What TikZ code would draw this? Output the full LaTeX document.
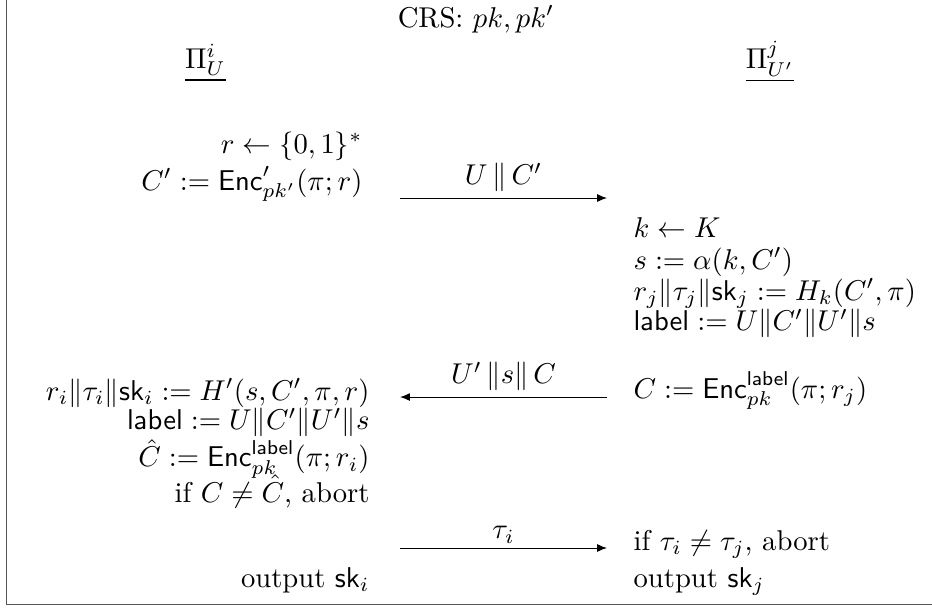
\documentclass[tikz,border=0pt]{standalone}
\usepackage{amsmath}
\usepackage{amssymb}
\usetikzlibrary{positioning, calc, arrows.meta}

\begin{document}
\begin{tikzpicture}[
  every node/.style={scale=1.15},
  msg/.style={-{Latex[length=4pt,width=3.2pt]}, line width=0.4pt},
  lcol/.style={anchor=base east, inner sep=0pt},
  rcol/.style={anchor=base west, inner sep=0pt},
]
\definecolor{cframe}{HTML}{555555}   % frame grey

% -------- page and column geometry --------
\useasboundingbox (0,0) rectangle (13.15,-8.593);
\pgfmathsetmacro{\xL}{5.221}   % right edge of the U column
\pgfmathsetmacro{\xR}{8.932}   % left edge of the U' column
\pgfmathsetmacro{\aL}{5.644}   % left end of the messages
\pgfmathsetmacro{\aR}{8.565}   % right end of the messages

% open frame (left and bottom edges only)
\draw[cframe, line width=0.6pt] (0.092,0) -- (0.092,-8.53) -- (13.15,-8.53);

% =====================================================================
% Header: common reference string and the two instances
% =====================================================================
\node[anchor=base] (crs) at (6.716,-0.381) {CRS: $pk, pk'$};
\node[anchor=base] (instU) at (2.90,-0.96) {$\underline{\Pi_U^i}$};
\node[anchor=base] (instV) at (10.865,-0.96) {$\underline{\Pi_{U'}^j}$};

% =====================================================================
% Round 1: U -> U'
% =====================================================================
\node[lcol] (rndU) at (5.122,-2.159) {$r \leftarrow \{0,1\}^*$};
\node[lcol] (encU) at (5.122,-2.681) {$C' := \mathsf{Enc}'_{pk'}(\pi; r)$};

\coordinate (m1s) at (\aL,-2.794);
\coordinate (m1e) at (\aR,-2.794);
\draw[msg] (m1s) -- node[above, inner sep=2pt] {$U \,\|\, C'$} (m1e);

% =====================================================================
% Round 2: U' -> U
% =====================================================================
\node[rcol] (keyV)   at (\xR,-3.358) {$k \leftarrow K$};
\node[rcol] (projV)  at (\xR,-3.796) {$s := \alpha(k, C')$};
\node[rcol] (hashV)  at (\xR,-4.233) {$r_j \| \tau_j \| \mathsf{sk}_j := H_k(C', \pi)$};
\node[rcol] (labelV) at (\xR,-4.670) {$\mathsf{label} := U \| C' \| U' \| s$};
\node[rcol] (encV)   at (\xR,-5.616) {$C := \mathsf{Enc}^{\mathsf{label}}_{pk}(\pi; r_j)$};

\coordinate (m2s) at (\aR,-5.602);
\coordinate (m2e) at (\aL,-5.602);
\draw[msg] (m2s) -- node[above, inner sep=2pt] {$U' \,\| s \|\, C$} (m2e);

\node[lcol] (hashU)  at (\xL,-5.644) {$r_i \| \tau_i \| \mathsf{sk}_i := H'(s, C', \pi, r)$};
\node[lcol] (labelU) at (\xL,-6.067) {$\mathsf{label} := U \| C' \| U' \| s$};
\node[lcol] (reencU) at (\xL,-6.589) {$\hat{C} := \mathsf{Enc}^{\mathsf{label}}_{pk}(\pi; r_i)$};
\node[lcol] (checkU) at (\xL,-7.083) {if $C \neq \hat{C}$, abort};

% =====================================================================
% Round 3: U -> U' and outputs
% =====================================================================
\coordinate (m3s) at (\aL,-7.732);
\coordinate (m3e) at (\aR,-7.732);
\draw[msg] (m3s) -- node[above, inner sep=1.5pt] {$\tau_i$} (m3e);

\node[rcol] (checkV) at (\xR,-7.761) {if $\tau_i \neq \tau_j$, abort};
\node[lcol] (outU)   at (\xL,-8.283) {output $\mathsf{sk}_i$};
\node[rcol] (outV)   at (\xR,-8.283) {output $\mathsf{sk}_j$};

\end{tikzpicture}
\end{document}
